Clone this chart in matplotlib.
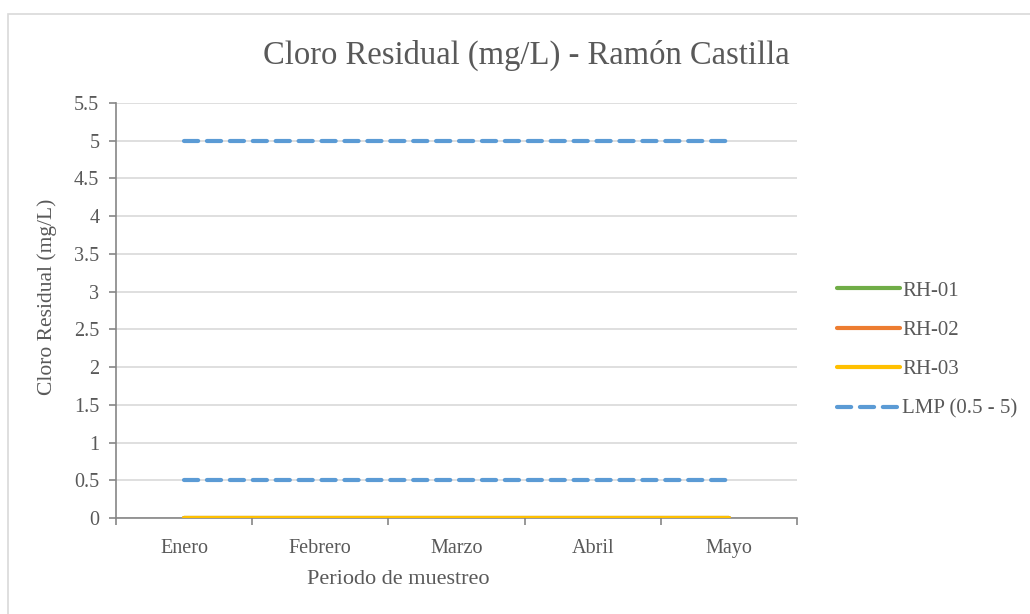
import matplotlib.pyplot as plt
from matplotlib.patches import Rectangle

# datos
meses = ["Enero", "Febrero", "Marzo", "Abril", "Mayo"]
rh01 = [0, 0, 0, 0, 0]
rh02 = [0, 0, 0, 0, 0]
rh03 = [0, 0, 0, 0, 0]
lmp_min = [0.5, 0.5, 0.5, 0.5, 0.5]
lmp_max = [5, 5, 5, 5, 5]
yticks = [0, 0.5, 1, 1.5, 2, 2.5, 3, 3.5, 4, 4.5, 5, 5.5]

plt.rcParams["font.family"] = ["Liberation Serif", "DejaVu Serif"]
txt = "#595959"
eje = "#868686"

fig = plt.figure(figsize=(10.3, 6.14), dpi=100)
ax = fig.add_axes([116 / 1030, 1 - 518 / 614, (797 - 116) / 1030, (518 - 103) / 614])

# marco del grafico
fig.patches.append(Rectangle((8 / 1030, -0.05), 1.1, 1 - 14 / 614 + 0.05,
                             transform=fig.transFigure, fill=False,
                             edgecolor="#D9D9D9", linewidth=1.2, zorder=0))

x = list(range(len(meses)))
lw = 3.0
guion = (0, (3.4, 2.1))
ax.plot(x, rh01, color="#70AD47", lw=lw, label="RH-01", solid_capstyle="round", zorder=3)
ax.plot(x, rh02, color="#ED7D31", lw=lw, label="RH-02", solid_capstyle="round", zorder=3)
ax.plot(x, rh03, color="#FFC000", lw=lw, label="RH-03", solid_capstyle="round", zorder=3)
ax.plot(x, lmp_min, color="#5B9BD5", lw=lw, ls=guion,
        dash_capstyle="round", label="LMP (0.5 - 5)", zorder=3)
ax.plot(x, lmp_max, color="#5B9BD5", lw=lw, ls=guion,
        dash_capstyle="round", zorder=3)

ax.set_xlim(-0.5, len(meses) - 0.5)
ax.set_ylim(0, 5.5)
ax.set_yticks(yticks)
ax.set_yticklabels([("%g" % v) for v in yticks])
ax.set_xticks(x)
ax.set_xticklabels(meses)
ax.set_xticks([i - 0.5 for i in range(len(meses) + 1)], minor=True)
ax.tick_params(axis="x", which="major", length=0, pad=15, labelsize=14.5, labelcolor=txt)
ax.tick_params(axis="x", which="minor", length=5, color=eje, width=1.2)
ax.tick_params(axis="y", length=5, color=eje, width=1.2, labelsize=14.5, labelcolor=txt, pad=7)

ax.grid(axis="y", color="#D9D9D9", lw=1.2, zorder=0)
ax.set_axisbelow(True)
for s in ["top", "right"]:
    ax.spines[s].set_visible(False)
for s in ["left", "bottom"]:
    ax.spines[s].set_color(eje)
    ax.spines[s].set_linewidth(1.2)
ax.spines["bottom"].set_zorder(2)

fig.text(526 / 1030, 1 - 55 / 614, "Cloro Residual (mg/L) - Ramón Castilla",
         fontsize=23.5, color=txt, ha="center", va="center")
ax.set_xlabel("Periodo de muestreo", fontsize=16, color=txt)
ax.set_ylabel("Cloro Residual (mg/L)", fontsize=15.5, color=txt)
ax.xaxis.set_label_coords((398 - 116) / 681, -(580 - 518) / 415)
ax.yaxis.set_label_coords(-(116 - 47) / 681, (518 - 297) / 415)
ax.xaxis.label.set_va("center")
ax.yaxis.label.set_va("center")

leg = ax.legend(loc="center left", bbox_to_anchor=(829 / 1030, 1 - 350 / 614),
                bbox_transform=fig.transFigure, frameon=False, fontsize=15,
                labelcolor=txt, handlelength=3.0, handletextpad=0.1,
                labelspacing=0.95, borderaxespad=0)

fig.savefig("out.png", dpi=100, facecolor="white")
